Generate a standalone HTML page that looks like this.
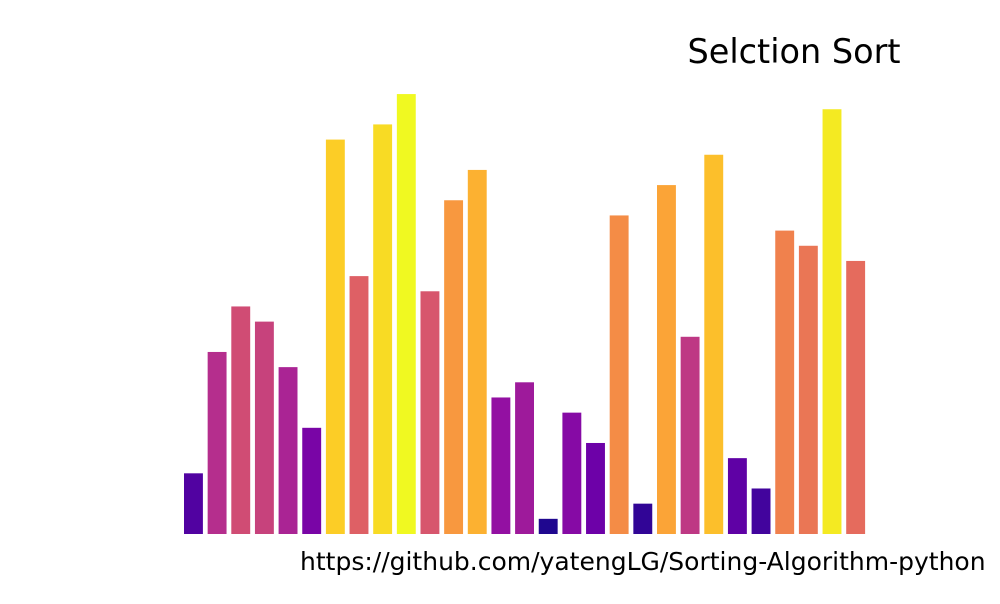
<!DOCTYPE html>
<html><head><meta charset="utf-8"><style>
body{margin:0;background:#fff;width:1000px;height:600px;overflow:hidden;font-family:"DejaVu Sans","Liberation Sans",sans-serif}
</style></head><body>
<svg id="chart" width="1000" height="600">
<text x="794" y="63" font-size="33.5" text-anchor="middle">Selction Sort</text>
<text x="300" y="570" font-size="25">https://github.com/yatengLG/Sorting-Algorithm-python</text>
<g id="bars"></g>
</svg>
<script>
const positions = Array.from({length:29},(_, i)=>i);
const values = [4,12,15,14,11,7,26,17,27,29,16,22,24,9,10,1,8,6,21,2,23,13,25,5,3,20,19,28,18];
const maxValue = 29;
const stops=["#0d0887","#41049d","#6a00a8","#8f0da4","#b12a90","#cc4778","#e16462","#f2844b","#fca636","#fcce25","#f0f921"];
function hex(h){return [1,3,5].map(i=>parseInt(h.substr(i,2),16));}
function plasma(t){t=Math.max(0,Math.min(1,t));const s=t*10,i=Math.min(9,Math.floor(s)),f=s-i;const a=hex(stops[i]),b=hex(stops[i+1]);return "rgb("+a.map((v,k)=>Math.round(v+(b[k]-v)*f)).join(",")+")";}
const x0=184,pitch=23.65,bw=18.9,base=534,unit=15.17;
const xs=i=>x0+i*pitch, ys=v=>base-v*unit;
const g=document.getElementById('bars');
values.forEach((v,i)=>{
 const r=document.createElementNS("http://www.w3.org/2000/svg","rect");
 r.setAttribute('x',xs(positions[i]));r.setAttribute('y',ys(v));
 r.setAttribute('width',bw);r.setAttribute('height',base-ys(v));
 r.setAttribute('fill',plasma(v/maxValue));
 
 
 g.appendChild(r);
});
</script>
</body></html>
